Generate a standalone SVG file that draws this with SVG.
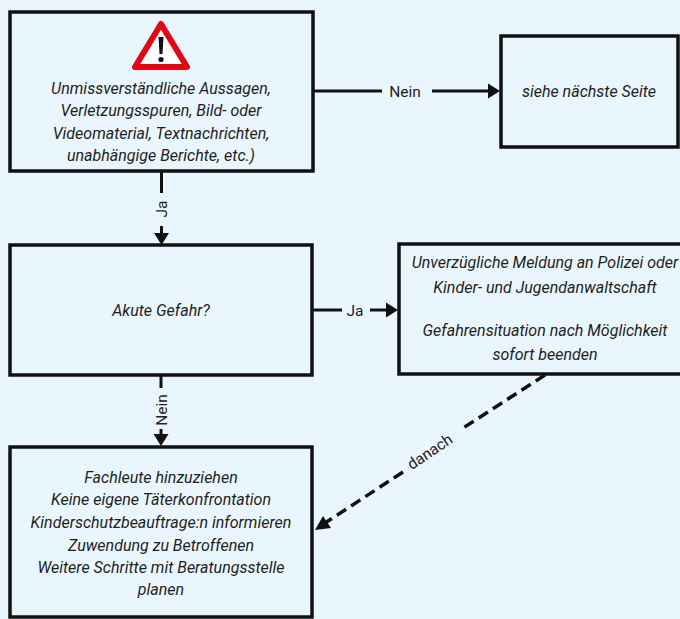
<svg xmlns="http://www.w3.org/2000/svg" width="680" height="619" viewBox="0 0 680 619">
<style>
.box{fill:#EAF6FE;stroke:#111;stroke-width:3.5}
.t{font-family:Roboto,"Liberation Sans",sans-serif;font-style:italic;font-size:16px;fill:#1e1e1e;text-anchor:middle}
.lbl{font-family:Roboto,"Liberation Sans",Arial,sans-serif;font-size:15.5px;fill:#1e1e1e;text-anchor:middle}
.ln{stroke:#111;stroke-width:3;fill:none}
.dash{stroke:#111;stroke-width:3.5;fill:none;stroke-dasharray:11 6}
.ah{fill:#111}
</style>
<rect width="680" height="619" fill="#EAF6FE"/>
<g id="node-evidence">
<rect class="box" x="10" y="12" width="303" height="159"/>
<path d="M161,24 L187,67 L135,67 Z" fill="#fff" stroke="#E30613" stroke-width="6" stroke-linejoin="round"/>
<path d="M158.5,37 L163.5,37 L162.5,54 L159.5,54 Z" fill="#111"/>
<circle cx="161" cy="59.5" r="2.6" fill="#111"/>
<text class="t" x="161" y="94">Unmissverständliche Aussagen,</text>
<text class="t" x="161" y="116">Verletzungsspuren, Bild- oder</text>
<text class="t" x="161" y="139">Videomaterial, Textnachrichten,</text>
<text class="t" x="161" y="161">unabhängige Berichte, etc.)</text>
</g>
<g id="node-next">
<rect class="box" x="501" y="36" width="177" height="111"/>
<text class="t" x="589" y="97">siehe nächste Seite</text>
</g>
<g id="node-danger">
<rect class="box" x="10" y="245" width="302" height="130"/>
<text class="t" x="161" y="316">Akute Gefahr?</text>
</g>
<g id="node-report">
<rect class="box" x="399" y="244" width="295" height="130"/>
<text class="t" x="545" y="268">Unverzügliche Meldung an Polizei oder</text>
<text class="t" x="545" y="293">Kinder- und Jugendanwaltschaft</text>
<text class="t" x="545" y="336">Gefahrensituation nach Möglichkeit</text>
<text class="t" x="545" y="360">sofort beenden</text>
</g>
<g id="node-steps">
<rect class="box" x="10" y="447" width="302" height="170"/>
<text class="t" x="161" y="483">Fachleute hinzuziehen</text>
<text class="t" x="161" y="505">Keine eigene Täterkonfrontation</text>
<text class="t" x="161" y="528">Kinderschutzbeauftrage:n informieren</text>
<text class="t" x="161" y="551">Zuwendung zu Betroffenen</text>
<text class="t" x="161" y="573">Weitere Schritte mit Beratungsstelle</text>
<text class="t" x="161" y="595">planen</text>
</g>
<g id="connectors">
<path class="ln" d="M314,91 H382 M432,91 H489"/>
<path class="ah" d="M500,91 L488,83.5 L488,98.5 Z"/>
<text class="lbl" x="405" y="96.5">Nein</text>

<path class="ln" d="M161.5,172 V193 M161.5,226 V234"/>
<path class="ah" d="M161.5,245 L154,233 L169,233 Z"/>
<text class="lbl" transform="translate(167,209) rotate(-90)" x="0" y="0">Ja</text>

<path class="ln" d="M313,310 H342 M370,310 H387"/>
<path class="ah" d="M398,310 L386,302.5 L386,317.5 Z"/>
<text class="lbl" x="355" y="315.5">Ja</text>

<path class="ln" d="M161,376 V388 M161,429 V435"/>
<path class="ah" d="M161,446 L153.5,434 L168.5,434 Z"/>
<text class="lbl" transform="translate(166.5,410) rotate(-90)" x="0" y="0">Nein</text>

<path class="dash" d="M545,375 L460,430 M403,472 L325,523"/>
<path class="ah" d="M315,530 L323,516 L331,528 Z"/>
<text class="lbl" transform="translate(430,452) rotate(-34)" x="0" y="5">danach</text>
</g>
</svg>
